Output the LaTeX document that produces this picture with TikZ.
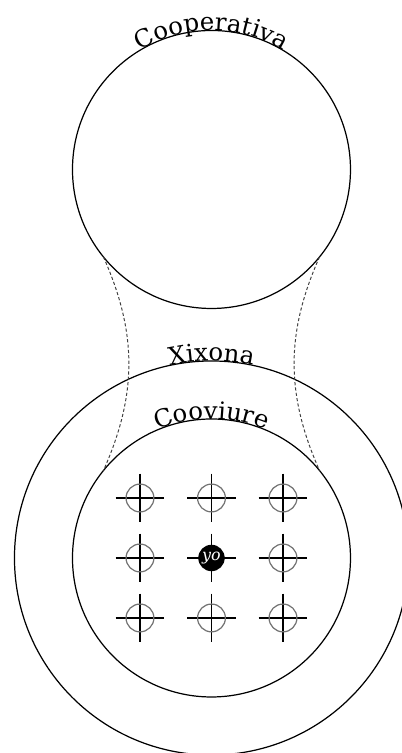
\documentclass[tikz,border=0pt]{standalone}
\usepackage{fontspec}
\setmainfont{DejaVu Serif}
\usetikzlibrary{positioning,calc,decorations.text}

\begin{document}
\begin{tikzpicture}[
    zone/.style={circle, draw, line width=0.5pt, minimum size=4cm, inner sep=0pt, outer sep=0pt},
    link/.style={thin, black!75, dash pattern=on 1.3pt off 0.9pt},
    target/.style={circle, draw=black!55, line width=0.5pt, minimum size=0.4cm, inner sep=0pt},
    me/.style={circle, fill=black, text=white, font=\fontsize{6.5}{7}\selectfont\itshape, minimum size=0.38cm, inner sep=0pt},
    ring label/.style={decorate, decoration={text along path, text align=center, text={#1}}}
  ]
  \useasboundingbox (0,0) rectangle (5.784,10.835);

  % Circles
  \node[zone] (coop) at (3.043,8.396) {};
  \node[zone, below=1.59cm of coop] (coovi) {};
  \node[zone, minimum size=5.67cm] (xix) at (coovi) {};

  % Labels along the circles
  \path[ring label=Cooperativa] (coop.west) arc[start angle=180, end angle=0, radius=2cm];
  \path[ring label=Xixona] (xix.west) arc[start angle=180, end angle=0, radius=2.835cm];
  \path[ring label=Cooviure] (coovi.west) arc[start angle=180, end angle=0, radius=2cm];

  % Dashed links
  \draw[link] (coop.219) to[bend left=24] (coovi.141);
  \draw[link] (coop.321) to[bend right=24] (coovi.39);

  % Crosshairs
  \foreach \c in {-1,0,1}
    \foreach \r in {-1,0,1} {
      \coordinate (aim\c\r) at ($(coovi)+(1.029*\c,0.863*\r)$);
      \draw[line width=0.5pt] ([yshift=0.35cm]aim\c\r) -- ([yshift=-0.35cm]aim\c\r);
      \draw[line width=0.5pt] ([xshift=-0.35cm]aim\c\r) -- ([xshift=0.35cm]aim\c\r);
    }
  \foreach \c/\r in {-1/-1,-1/0,-1/1,0/-1,0/1,1/-1,1/0,1/1}
    \node[target] (ring\c\r) at (aim\c\r) {};

  \node[me] (yo) at (aim00) {yo};
\end{tikzpicture}
\end{document}
